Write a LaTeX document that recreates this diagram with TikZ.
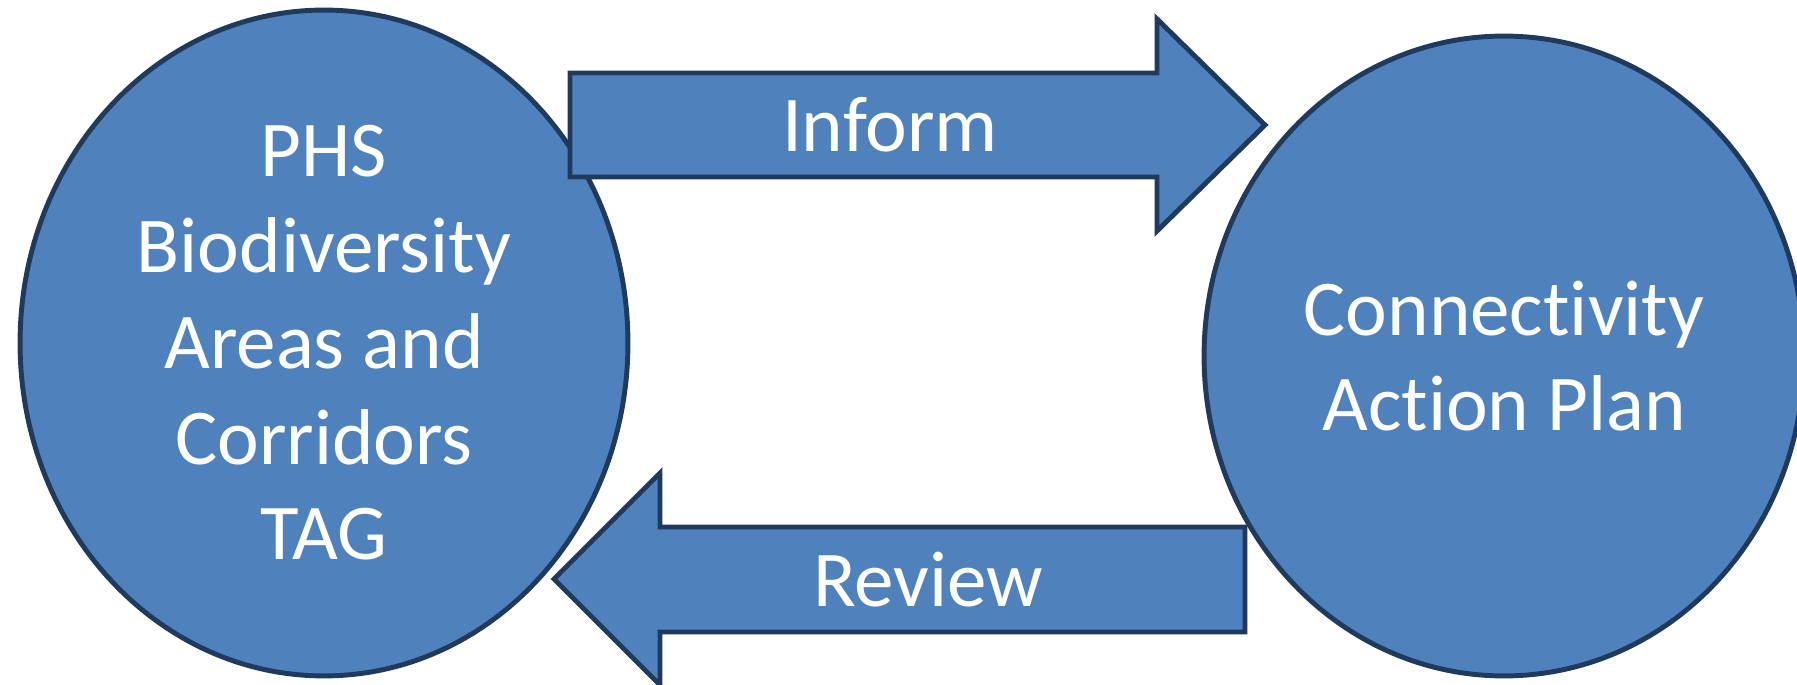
\documentclass[tikz,border=0pt]{standalone}
\usepackage{fontspec}
\setmainfont{Carlito}[Ligatures=NoCommon]
\usetikzlibrary{shapes.geometric, positioning}

\definecolor{boxblue}{HTML}{4F81BD}
\definecolor{edgeblue}{HTML}{1F3A5C}

\tikzset{
  blob/.style={ellipse, draw=edgeblue, fill=boxblue, line width=2.8pt,
    text=white, align=center, inner sep=0pt,
    font=\fontsize{45}{54.5}\selectfont},
  blockarrow/.style={draw=edgeblue, fill=boxblue, line width=2.8pt, line join=miter},
  arrowtext/.style={text=white, inner sep=0pt, font=\fontsize{45}{54.5}\selectfont}
}

\begin{document}
\begin{tikzpicture}[x=0.02cm, y=-0.02cm]
\path [use as bounding box, clip] (0,0) rectangle (1797,685);

% the two groups
\node [blob, minimum width=12.16cm, minimum height=13.32cm] (phs) at (324,343)
  {PHS\\Biodiversity\\Areas and\\Corridors\\TAG};
\node [blob, minimum width=12cm, minimum height=12.8cm] (cap) at (1504,356)
  {Connectivity\\Action Plan};

% block arrows
\draw [blockarrow] (570,73) -- (1157,73) -- (1157,19) -- (1265,125)
  -- (1157,231) -- (1157,177) -- (570,177) -- cycle;
\draw [blockarrow] (1245,527) -- (660,527) -- (660,473) -- (554,579)
  -- (660,685) -- (660,632) -- (1245,632) -- cycle;

\node [arrowtext] (inform) at (890,125) {Inform};
\node [arrowtext] (review) at (928,580) {Review};
\end{tikzpicture}
\end{document}
